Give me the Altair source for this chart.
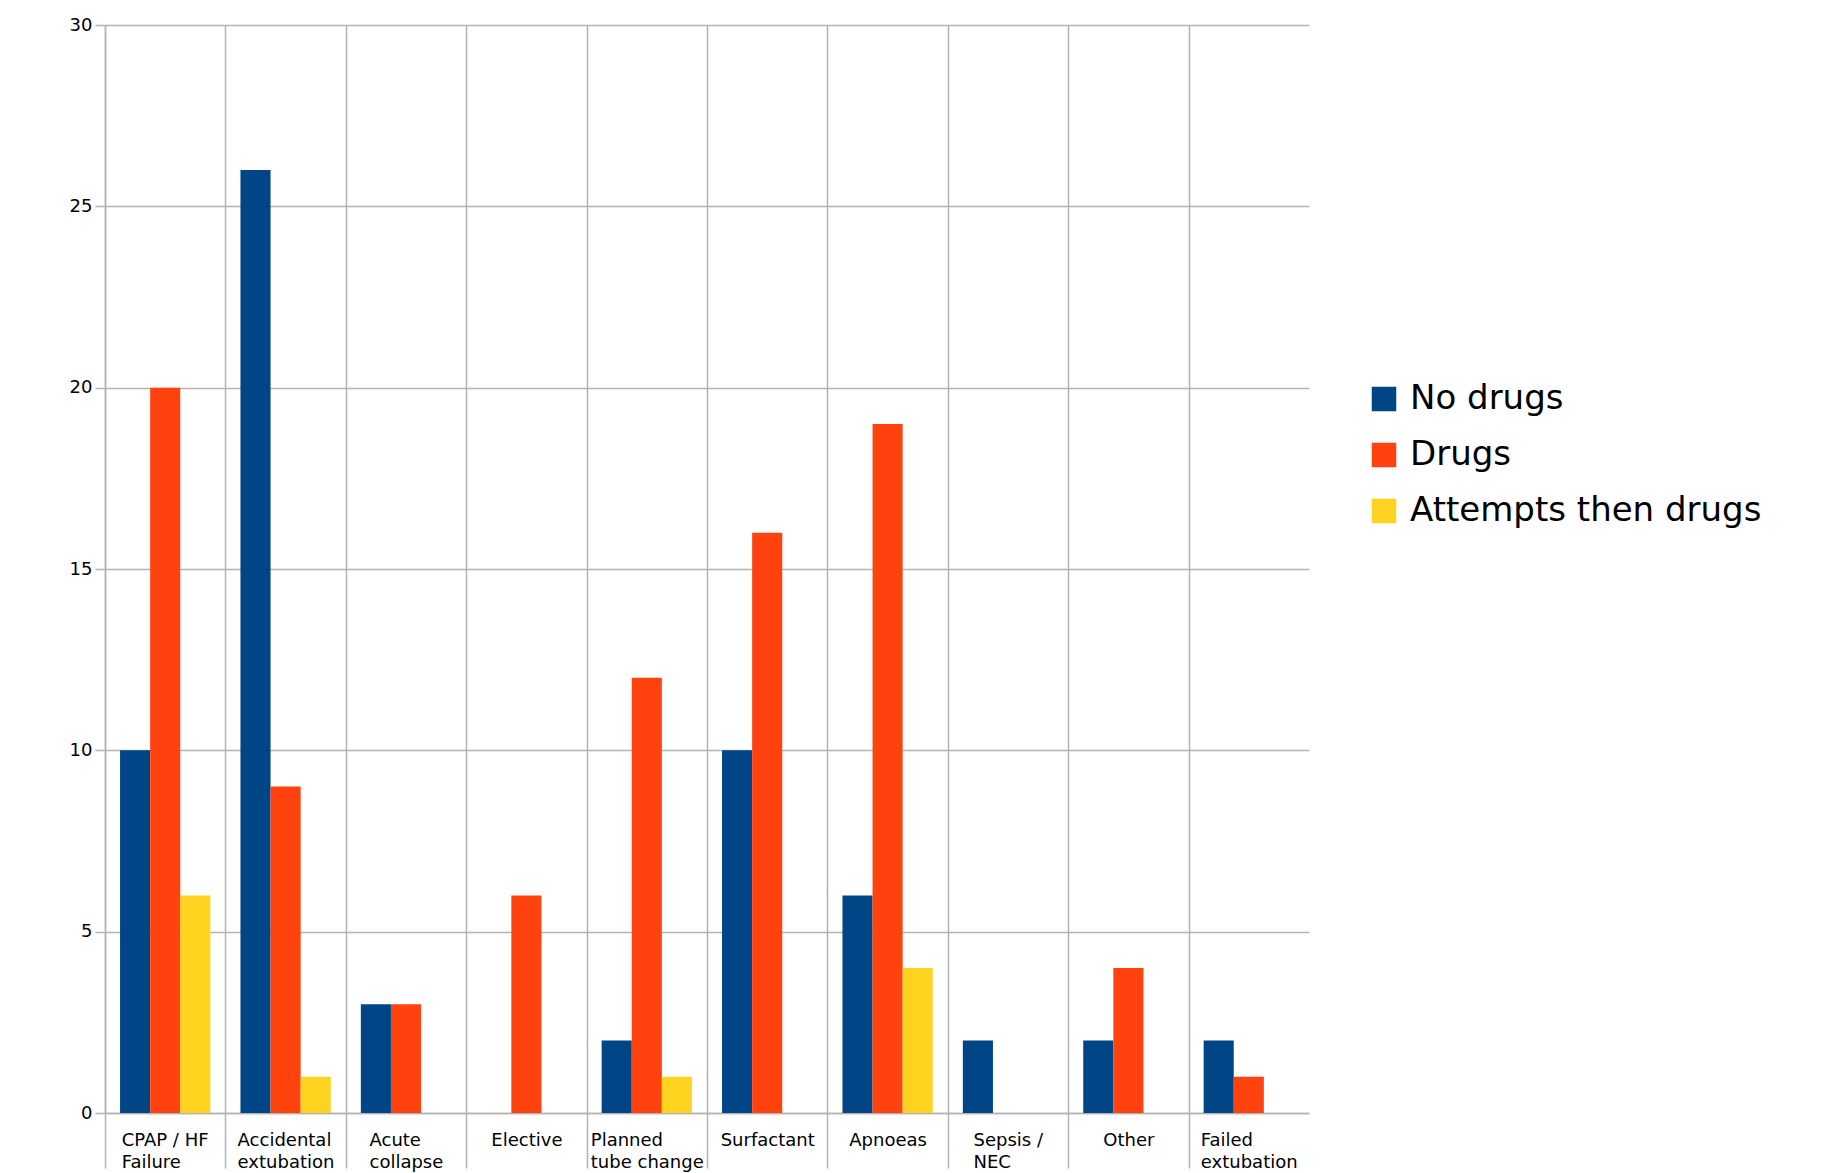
import altair as alt
import pandas as pd

categories = ["CPAP / HF Failure", "Accidental extubation", "Acute collapse", "Elective",
              "Planned tube change", "Surfactant", "Apnoeas", "Sepsis / NEC", "Other",
              "Failed extubation"]
label_lines = [["CPAP / HF", "Failure"], ["Accidental", "extubation"], ["Acute", "collapse"],
               ["Elective"], ["Planned", "tube change"], ["Surfactant"], ["Apnoeas"],
               ["Sepsis /", "NEC"], ["Other"], ["Failed", "extubation"]]
series = ["No drugs", "Drugs", "Attempts then drugs"]
no_drugs = [10, 26, 3, 0, 2, 10, 6, 2, 2, 2]
drugs = [20, 9, 3, 6, 12, 16, 19, 0, 4, 1]
attempts = [6, 1, 0, 0, 1, 0, 4, 0, 0, 0]
colors = ["#004586", "#ff420e", "#ffd320"]
y_ticks = [0, 5, 10, 15, 20, 25, 30]
# half-widths (px) of the two-line label blocks, used to left-align their lines
label_shift = [-44, -48.5, -37, 0, -56.5, 0, 0, -35, 0, -48.5]

PLOT_W, PLOT_H = 1204, 1088
HALF_STEP = PLOT_W / len(categories) / 2

rows = []
for s, vals in zip(series, [no_drugs, drugs, attempts]):
    for c, v in zip(categories, vals):
        rows.append({"category": c, "series": s, "value": v})
df = pd.DataFrame(rows)

def js_str(t):
    return "'" + t.replace("'", "\\'") + "'"

label_expr = ""
for c, lines in zip(categories, label_lines):
    arr = "[" + ",".join(js_str(l) for l in lines) + "]"
    label_expr += f"datum.value == {js_str(c)} ? {arr} : "
label_expr += "datum.label"

two_line = [c for c, l in zip(categories, label_lines) if len(l) > 1]
align_cond = {
    "condition": {"test": "indexof([" + ",".join(js_str(c) for c in two_line) + "], datum.value) >= 0",
                  "value": "left"},
    "value": "center",
}
offset_cond = {
    "condition": [{"test": f"datum.value == {js_str(c)}", "value": HALF_STEP + o}
                  for c, o in zip(categories, label_shift) if o != 0],
    "value": HALF_STEP,
}

FONT = "DejaVu Sans"
GRID = "#b3b3b3"

chart = alt.Chart(df).mark_bar().encode(
    x=alt.X("category:N", sort=categories, title=None,
            scale=alt.Scale(paddingInner=0, paddingOuter=0),
            axis=alt.Axis(tickBand="center", tickOffset=-HALF_STEP,
                          grid=True, gridColor=GRID, gridWidth=1.5,
                          domain=True, domainColor=GRID, domainWidth=1.5,
                          ticks=True, tickSize=55, tickColor=GRID, tickWidth=1.5,
                          labelPadding=-37, labelAngle=0, labelFont=FONT, labelFontSize=18,
                          labelColor="#000000", labelLineHeight=22, labelOverlap=False,
                          labelAlign=align_cond, labelOffset=offset_cond,
                          labelExpr=label_expr, labelBound=False, labelLimit=0)),
    xOffset=alt.XOffset("series:N", sort=series,
                        scale=alt.Scale(paddingInner=0, paddingOuter=0.5)),
    y=alt.Y("value:Q", title=None,
            scale=alt.Scale(domain=[0, 30], nice=False),
            axis=alt.Axis(values=y_ticks, grid=True, gridColor=GRID, gridWidth=1.5,
                          domain=True, domainColor=GRID, domainWidth=1.5,
                          tickSize=10, tickColor=GRID, tickWidth=1.5,
                          labelPadding=3, labelFont=FONT, labelFontSize=18,
                          labelColor="#000000")),
    color=alt.Color("series:N", sort=series,
                    scale=alt.Scale(domain=series, range=colors),
                    legend=alt.Legend(title=None, orient="none", legendX=1262, legendY=357,
                                      symbolType="square", symbolSize=600,
                                      symbolStrokeWidth=0, symbolOpacity=1,
                                      labelFont=FONT, labelFontSize=34, labelColor="#000000",
                                      labelOffset=9, rowPadding=22, padding=0,
                                      labelLimit=0)),
).properties(
    width=PLOT_W, height=PLOT_H,
    background="#ffffff",
    autosize=alt.AutoSizeParams(type="none"),
    padding={"left": 105, "top": 25, "right": 521, "bottom": 60},
).configure(
    style={"cell": {"stroke": "transparent", "strokeWidth": 0, "strokeOpacity": 0}},
).configure_view(strokeWidth=0, stroke="transparent", strokeOpacity=0)

chart.save("out.html", embed_options={"renderer": "svg", "actions": False})
